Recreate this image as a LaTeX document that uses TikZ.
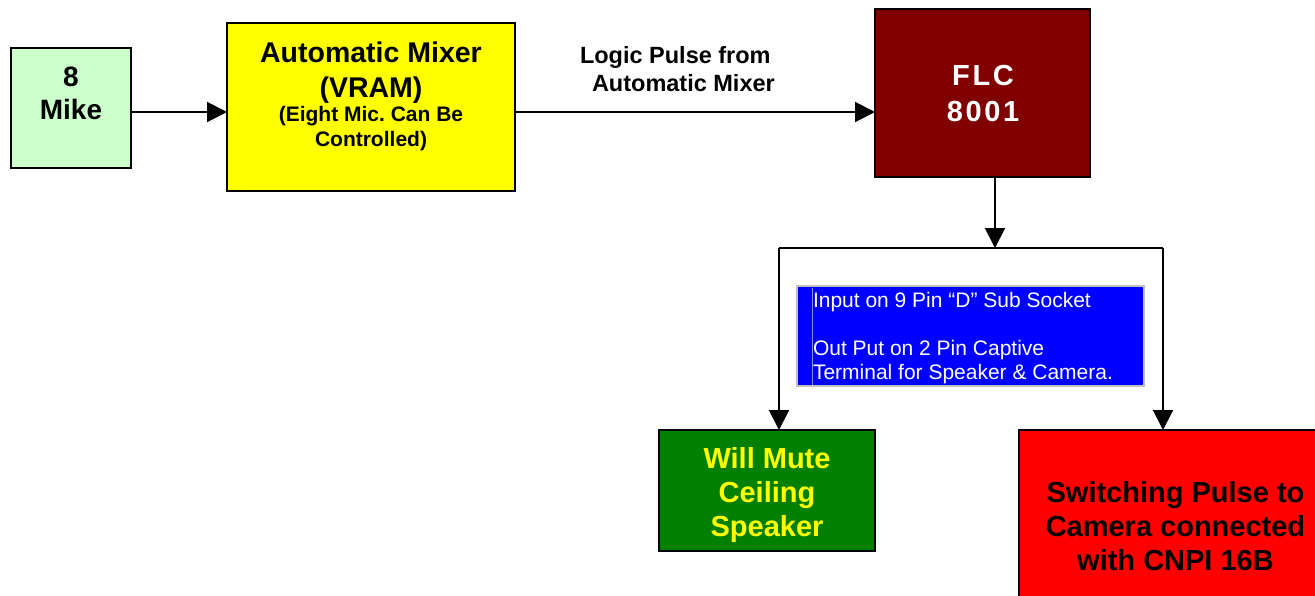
\documentclass[tikz,border=0pt]{standalone}
\usepackage{fontspec}
\setmainfont{Liberation Sans}
\newfontfamily\spacedfont[LetterSpace=9]{Liberation Sans}
\usetikzlibrary{arrows.meta}
\frenchspacing
\definecolor{mikegreen}{HTML}{CCFFCC}
\definecolor{mixeryellow}{HTML}{FFFF00}
\definecolor{flcred}{HTML}{800000}
\definecolor{infoblue}{HTML}{0000FF}
\definecolor{mutegreen}{HTML}{008000}
\definecolor{pulsered}{HTML}{FF0000}
\definecolor{boxgray}{HTML}{C0C0C0}
\definecolor{faintline}{HTML}{8C8CFF}
\tikzset{
  blockbox/.style={draw=black, line width=2pt, rectangle, outer sep=0pt, inner sep=0pt},
  txt/.style={inner sep=0pt, outer sep=0pt, align=center},
  conn/.style={draw=black, line width=2pt},
  arr/.style={conn, -{Triangle[length=20pt,width=20pt]}},
}
\begin{document}
\frenchspacing
\begin{tikzpicture}[x=1pt,y=-1pt]
\useasboundingbox (0,0) rectangle (1315,595);
% boxes
\node[blockbox, fill=mikegreen, minimum width=120pt, minimum height=120pt] (mike) at (71,108) {};
\node[blockbox, fill=mixeryellow, minimum width=288pt, minimum height=168pt] (mixer) at (371,107) {};
\node[blockbox, fill=flcred, minimum width=215pt, minimum height=168pt] (flc) at (982.5,93) {};
\node[rectangle, draw=boxgray, line width=2.5pt, fill=infoblue, minimum width=347pt, minimum height=100pt, outer sep=0pt] (info) at (970.5,336) {};
\node[blockbox, fill=mutegreen, minimum width=216pt, minimum height=121pt] (mute) at (767,490.5) {};
\node[blockbox, fill=pulsered, minimum width=316pt, minimum height=220pt] (pulse) at (1177,540) {};
% texts
\node[txt, font=\bfseries\fontsize{28}{33}\selectfont] (miketxt) at (71,93.5) {8\\Mike};
\node[txt, font=\bfseries\fontsize{28.5}{35}\selectfont] (mixertitle) at (371,73) {Automatic Mixer\\(VRAM)};
\node[txt, font=\bfseries\fontsize{21}{25}\selectfont] (mixersub) at (371,129) {(Eight Mic. Can Be\\Controlled)};
\node[txt, align=left, anchor=north west, font=\bfseries\fontsize{23.5}{28}\selectfont] (logiclbl) at (580,46) {Logic Pulse from\\\hspace*{12pt}Automatic Mixer};
\node[txt, text=white, font=\spacedfont\bfseries\fontsize{29}{36}\selectfont] (flctxt) at (983,94) {FLC\\8001};
\draw[faintline, line width=0.6pt] (812,287.5) -- (812,384.5);
\node[txt, align=left, anchor=north west, text=white, font=\fontsize{21}{24}\selectfont] (infotxt) at (813,292) {Input on 9 Pin “D” Sub Socket\\[24pt]Out Put on 2 Pin Captive\\Terminal for Speaker \& Camera.};
\node[txt, text=mixeryellow, font=\bfseries\fontsize{29}{34}\selectfont] (mutetxt) at (767,494.5) {Will Mute\\Ceiling\\Speaker};
\node[txt, font=\bfseries\fontsize{29}{34}\selectfont] (pulsetxt) at (1175.5,526) {Switching Pulse to\\Camera connected\\with CNPI 16B};
% connectors
\draw[arr] (mike.east |- 0,112) -- (mixer.west |- 0,112);
\draw[arr] (mixer.east |- 0,112) -- (flc.west |- 0,112);
\coordinate (split) at (995,248);
\coordinate (bl) at (779,248);
\coordinate (br) at (1163,248);
\draw[arr] (flc.south -| split) -- (split);
\draw[conn] (bl) -- (br);
\draw[arr] (bl) -- (mute.north -| bl);
\draw[arr] (br) -- (pulse.north -| br);
\end{tikzpicture}
\end{document}
